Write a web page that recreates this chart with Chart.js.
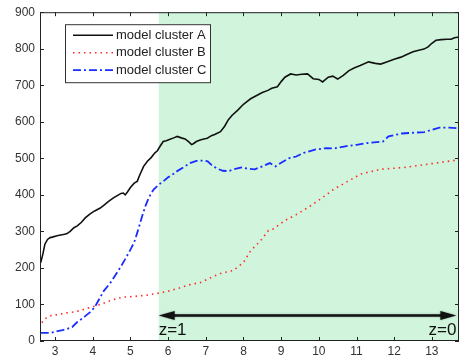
<!DOCTYPE html>
<html>
<head>
<meta charset="utf-8">
<script src="https://cdn.jsdelivr.net/npm/chart.js@4"></script>
<style>
  html, body { margin: 0; padding: 0; background: #fff; }
  #wrap { width: 459px; height: 356px; }
</style>
</head>
<body>
<div id="wrap"><canvas id="chart" width="459" height="356"></canvas></div>
<script>
// x positions and values
var clusterA = [
  [2.62,215],[2.68,240],[2.73,265],[2.80,278],[2.87,283],[2.95,285],[3.05,288],[3.15,290],
  [3.25,292],[3.32,294],[3.40,300],[3.50,310],[3.59,315],[3.70,325],[3.80,337],[3.93,348],
  [4.05,356],[4.20,364],[4.30,372],[4.42,382],[4.54,391],[4.65,398],[4.75,404],[4.81,405],
  [4.86,400],[4.92,408],[5.00,420],[5.10,432],[5.18,437],[5.25,455],[5.35,478],[5.45,492],
  [5.55,502],[5.65,515],[5.71,520],[5.80,535],[5.87,546],[5.95,548],[6.05,552],[6.15,556],
  [6.24,560],[6.35,556],[6.45,553],[6.55,545],[6.62,538],[6.67,540],[6.75,546],[6.85,550],
  [6.95,553],[7.04,555],[7.15,562],[7.25,566],[7.39,573],[7.50,588],[7.60,606],[7.70,618],
  [7.85,632],[8.00,648],[8.10,656],[8.19,663],[8.35,672],[8.50,680],[8.65,686],[8.75,692],
  [8.90,696],[9.00,710],[9.10,722],[9.25,731],[9.40,728],[9.55,730],[9.70,731],[9.85,718],
  [10.00,716],[10.10,709],[10.25,722],[10.37,725],[10.50,717],[10.65,727],[10.80,740],
  [10.95,748],[11.10,754],[11.32,764],[11.50,760],[11.64,758],[11.80,764],[12.00,771],
  [12.18,777],[12.35,785],[12.50,792],[12.65,796],[12.79,799],[12.90,805],[13.00,815],
  [13.11,823],[13.25,825],[13.40,826],[13.51,826],[13.60,830],[13.72,832]
];
var clusterB = [
  [2.65,50],[2.72,60],[2.80,65],[2.90,70],[3.05,72],[3.30,77],[3.55,80],[3.80,88],[4.00,94],
  [4.20,100],[4.40,108],[4.60,115],[4.80,120],[5.10,122],[5.40,125],[5.70,130],[5.95,135],
  [6.30,145],[6.60,155],[6.86,160],[7.10,172],[7.39,185],[7.73,193],[8.00,215],[8.19,247],
  [8.45,274],[8.66,302],[8.80,307],[9.10,330],[9.44,348],[9.75,368],[10.05,389],[10.39,415],
  [10.77,437],[11.11,457],[11.64,470],[12.26,475],[12.89,484],[13.30,490],[13.72,496]
];
var clusterC = [
  [2.62,22],[2.75,22],[2.87,22],[3.00,25],[3.10,28],[3.20,30],[3.32,33],[3.45,38],[3.59,52],
  [3.70,60],[3.80,68],[3.93,79],[4.05,92],[4.20,120],[4.30,138],[4.46,158],[4.60,180],
  [4.73,201],[4.85,222],[5.00,250],[5.10,270],[5.18,296],[5.25,320],[5.32,345],[5.40,370],
  [5.45,383],[5.55,405],[5.62,415],[5.75,428],[5.87,437],[6.00,448],[6.15,458],[6.24,465],
  [6.40,475],[6.58,487],[6.75,493],[6.94,494],[7.05,492],[7.15,482],[7.30,472],[7.45,466],
  [7.60,465],[7.75,470],[7.95,475],[8.10,472],[8.30,470],[8.50,478],[8.70,487],[8.85,478],
  [9.00,488],[9.20,500],[9.40,505],[9.60,515],[9.90,524],[10.20,528],[10.40,527],[10.70,533],
  [11.00,537],[11.30,542],[11.70,546],[11.85,560],[12.20,568],[12.50,570],[12.80,572],
  [13.00,578],[13.20,584],[13.45,584],[13.72,582]
];
var seriesNames = ['model cluster A', 'model cluster B', 'model cluster C'];
var xTicks = [3,4,5,6,7,8,9,10,11,12,13];
var yTicks = [0,100,200,300,400,500,600,700,800,900];
var xRange = [2.6, 13.72];
var yRange = [0, 900];
var greenStart = 5.75;
var arrowY = 70;
var arrowFrom = 5.75, arrowTo = 13.65;
var zLabels = [['z=1', 5.75, 'left'], ['z=0', 13.65, 'right']];

function toPts(a) { return a.map(function(p){ return {x:p[0], y:p[1]}; }); }

var fontFam = '"Liberation Sans", Arial, sans-serif';

var matlabPlugin = {
  id: 'matlab',
  beforeDatasetsDraw: function(chart) {
    var ctx = chart.ctx, ca = chart.chartArea, xs = chart.scales.x;
    ctx.save();
    ctx.fillStyle = '#d0f5dc';
    var gx = xs.getPixelForValue(greenStart);
    ctx.fillRect(gx, ca.top, ca.right - gx, ca.bottom - ca.top);
    ctx.restore();
  },
  afterDatasetsDraw: function(chart) {
    var ctx = chart.ctx, ca = chart.chartArea, xs = chart.scales.x, ys = chart.scales.y;
    ctx.save();
    // frame + inward ticks
    ctx.strokeStyle = '#222';
    ctx.lineWidth = 1;
    ctx.strokeRect(ca.left + 0.5, ca.top + 0.5, ca.right - ca.left - 1, ca.bottom - ca.top - 1);
    ctx.beginPath();
    xTicks.forEach(function(v){
      var px = Math.round(xs.getPixelForValue(v)) + 0.5;
      ctx.moveTo(px, ca.bottom); ctx.lineTo(px, ca.bottom - 4);
      ctx.moveTo(px, ca.top); ctx.lineTo(px, ca.top + 4);
    });
    yTicks.forEach(function(v){
      var py = Math.round(ys.getPixelForValue(v)) + 0.5;
      ctx.moveTo(ca.left, py); ctx.lineTo(ca.left + 4, py);
      ctx.moveTo(ca.right, py); ctx.lineTo(ca.right - 4, py);
    });
    ctx.stroke();

    // double arrow
    var ay = ys.getPixelForValue(arrowY);
    var x1 = xs.getPixelForValue(arrowFrom), x2 = xs.getPixelForValue(arrowTo);
    ctx.shadowColor = 'rgba(0,0,0,0.35)';
    ctx.shadowBlur = 2;
    ctx.strokeStyle = '#111';
    ctx.lineWidth = 2.5;
    ctx.beginPath();
    ctx.moveTo(x1 + 10, ay); ctx.lineTo(x2 - 10, ay);
    ctx.stroke();
    ctx.fillStyle = '#111';
    ctx.beginPath();
    ctx.moveTo(x1, ay); ctx.lineTo(x1 + 16, ay - 4.5); ctx.lineTo(x1 + 16, ay + 4.5); ctx.closePath();
    ctx.fill();
    ctx.beginPath();
    ctx.moveTo(x2, ay); ctx.lineTo(x2 - 16, ay - 4.5); ctx.lineTo(x2 - 16, ay + 4.5); ctx.closePath();
    ctx.fill();
    ctx.shadowBlur = 0;
    ctx.shadowColor = 'transparent';

    ctx.font = '17px ' + fontFam;
    ctx.textBaseline = 'middle';
    zLabels.forEach(function(z){
      ctx.textAlign = z[2];
      ctx.fillText(z[0], xs.getPixelForValue(z[1]), ay + 15);
    });

    // legend box
    var lx = ca.left + 25, ly = ca.top + 12, lw = 145, lh = 58;
    ctx.fillStyle = '#fff';
    ctx.fillRect(lx, ly, lw, lh);
    ctx.strokeStyle = '#333';
    ctx.lineWidth = 1;
    ctx.strokeRect(lx + 0.5, ly + 0.5, lw, lh);
    ctx.font = '13px ' + fontFam;
    ctx.textAlign = 'left';
    ctx.textBaseline = 'middle';
    chart.data.datasets.forEach(function(ds, i){
      var yy = ly + 11 + i * 17.5;
      ctx.strokeStyle = ds.borderColor;
      ctx.lineWidth = ds.borderWidth;
      ctx.setLineDash(ds.borderDash || []);
      ctx.beginPath();
      ctx.moveTo(lx + 8, yy); ctx.lineTo(lx + 48, yy);
      ctx.stroke();
      ctx.setLineDash([]);
      ctx.fillStyle = '#222';
      ctx.fillText(ds.label, lx + 51, yy);
    });
    ctx.restore();
  }
};

new Chart(document.getElementById('chart'), {
  type: 'line',
  data: {
    datasets: [
      { label: seriesNames[0], data: toPts(clusterA), borderColor: '#111', borderWidth: 1.6, pointRadius: 0, tension: 0 },
      { label: seriesNames[1], data: toPts(clusterB), borderColor: '#ff2a2a', borderWidth: 1.6, borderDash: [1.5, 4], pointRadius: 0, tension: 0 },
      { label: seriesNames[2], data: toPts(clusterC), borderColor: '#1a2cff', borderWidth: 1.8, borderDash: [8, 3, 2, 3], pointRadius: 0, tension: 0 }
    ]
  },
  options: {
    responsive: false,
    animation: false,
    layout: { padding: { top: 10, right: 0, left: 0, bottom: 0 } },
    plugins: { legend: { display: false }, tooltip: { enabled: false } },
    scales: {
      x: {
        type: 'linear', min: xRange[0], max: xRange[1],
        afterBuildTicks: function(s){ s.ticks = xTicks.map(function(v){ return {value: v}; }); },
        afterFit: function(s){ s.height = 15; },
        grid: { display: false, drawTicks: false },
        border: { display: false },
        ticks: { color: '#333', font: { family: fontFam, size: 12 }, padding: 3, maxRotation: 0, autoSkip: false }
      },
      y: {
        min: yRange[0], max: yRange[1],
        afterBuildTicks: function(s){ s.ticks = yTicks.map(function(v){ return {value: v}; }); },
        afterFit: function(s){ s.width = 40; },
        grid: { display: false, drawTicks: false },
        border: { display: false },
        ticks: { color: '#333', font: { family: fontFam, size: 12 }, padding: 5 }
      }
    }
  },
  plugins: [matlabPlugin]
});
</script>
</body>
</html>
